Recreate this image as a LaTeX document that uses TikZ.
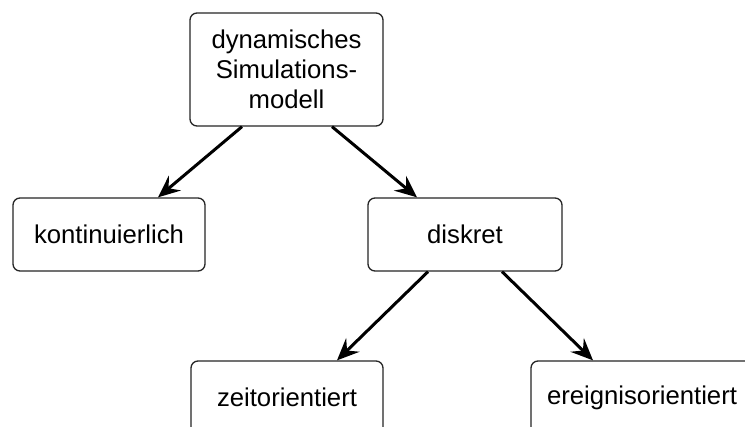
\documentclass[tikz,border=0pt]{standalone}
\usepackage{fontspec}
\setmainfont{Liberation Sans}
\usetikzlibrary{arrows.meta}
\begin{document}
\begin{tikzpicture}[x=1pt,y=-1pt,
  box/.style={draw=black!85,line width=1.3pt,rounded corners=7pt,
    align=center,inner sep=0pt,minimum height=73pt,
    font=\fontsize{25.7}{30}\selectfont},
  link/.style={line width=3pt,-{Stealth[length=22pt,width=19pt,inset=8pt]}}]
\clip (0,0) rectangle (745,427);
\fill[white] (0,0) rectangle (745,427);
\node[box,minimum width=193pt,minimum height=113pt] (top) at (286.5,69.5)
  {dynamisches\\Simulations-\\modell};
\node[box,minimum width=192pt] (kont) at (109,234.5) {kontinuierlich};
\node[box,minimum width=194pt] (disk) at (465,234.5) {diskret};
\node[box,minimum width=192pt] (zeit) at (287,397.5) {zeitorientiert};
\node[box,minimum width=222pt] (ereig) at (642,397.5) {ereignisorientiert};
\draw[link] ([xshift=-44.5pt]top.south) -- ([xshift=49pt]kont.north);
\draw[link] ([xshift=45.5pt]top.south) -- ([xshift=-48pt]disk.north);
\draw[link] ([xshift=-37pt]disk.south) -- ([xshift=50pt]zeit.north);
\draw[link] ([xshift=37pt]disk.south) -- ([xshift=-49pt]ereig.north);
\end{tikzpicture}
\end{document}
